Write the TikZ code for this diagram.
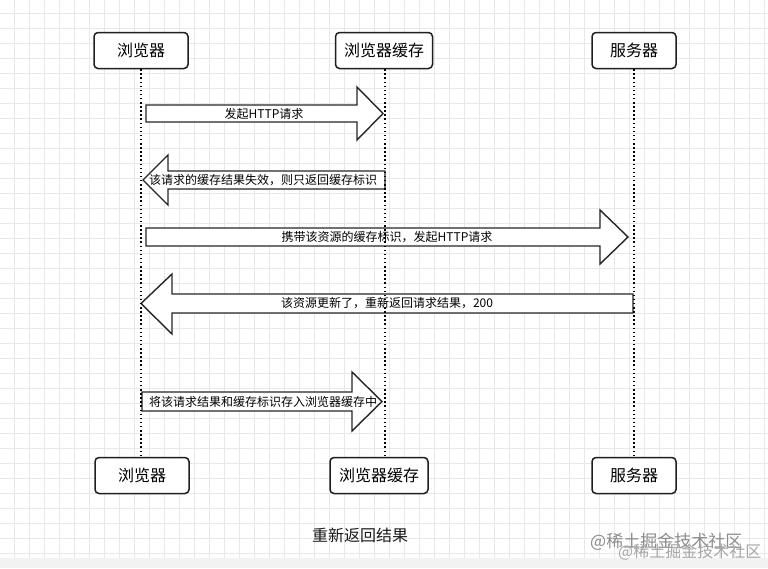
\documentclass[tikz,border=0pt]{standalone}
\usepackage{fontspec}
\newfontfamily\cjk{Noto Sans CJK SC}
\tikzset{
  actor/.style={draw=black!88, line width=1.5pt, rounded corners=4pt, fill=white,
    font=\cjk\fontsize{16}{19}\selectfont, minimum height=36pt, inner sep=0pt},
  blockarrow/.style={draw=black!85, line width=1.4pt, fill=white, line join=miter},
  life/.style={line width=1.3pt, dash pattern=on 1.5pt off 2.6pt},
  msg/.style={font=\cjk\fontsize{12}{14}\selectfont, inner sep=0pt, text=black},
  gridline/.style={draw=black!9, line width=0.8pt}
}
\begin{document}
\begin{tikzpicture}[x=1pt,y=-1pt]
\useasboundingbox (0,0) rectangle (768,568);
\fill[white] (0,0) rectangle (768,568);
% grid
\foreach \x in {14,29,...,764} \draw[gridline] (\x,0) -- (\x,558);
\foreach \y in {13,28,...,553} \draw[gridline] (0,\y) -- (768,\y);
\fill[black!5] (0,558) rectangle (768,568);

% participants
\node[actor, minimum width=94pt] (b1) at (141,50.5) {浏览器};
\node[actor, minimum width=97pt] (c1) at (384,50.5) {浏览器缓存};
\node[actor, minimum width=84pt] (s1) at (634,50.5) {服务器};
\node[actor, minimum width=94pt] (b2) at (142,475.5) {浏览器};
\node[actor, minimum width=98pt] (c2) at (379,475.5) {浏览器缓存};
\node[actor, minimum width=84pt] (s2) at (634,475.5) {服务器};

% block arrows
\draw[blockarrow] (146,105) -- (357,105) -- (357,87) -- (383,113.5) -- (357,140) -- (357,122) -- (146,122) -- cycle;
\draw[blockarrow] (385,171) -- (168,171) -- (168,155) -- (143,180) -- (168,205) -- (168,189) -- (385,189) -- cycle;
\draw[blockarrow] (146,228) -- (600,228) -- (600,210) -- (628,237) -- (600,264) -- (600,246) -- (146,246) -- cycle;
\draw[blockarrow] (633,294) -- (172,294) -- (172,274) -- (141,303.5) -- (172,334) -- (172,313) -- (633,313) -- cycle;
\draw[blockarrow] (142,392) -- (352,392) -- (352,372) -- (382,401.5) -- (352,431) -- (352,411) -- (142,411) -- cycle;

% lifelines
\draw[life] (b1.south) -- (b1.south |- b2.north);
\draw[life] ([xshift=1pt]c1.south) -- ([xshift=1pt]c1.south |- c2.north);
\draw[life] (s1.south) -- (s1.south |- s2.north);

% messages
\node[msg] (t1) at (264,114) {发起HTTP请求};
\node[msg] (t2) at (263,180) {该请求的缓存结果失效，则只返回缓存标识};
\node[msg] (t3) at (387,237) {携带该资源的缓存标识，发起HTTP请求};
\node[msg] (t4) at (387,303) {该资源更新了，重新返回请求结果，200};
\node[msg] (t5) at (263,401.5) {将该请求结果和缓存标识存入浏览器缓存中};

% caption
\node[font=\cjk\fontsize{16}{19}\selectfont, text=black!90, inner sep=0pt] (cap) at (360,535) {重新返回结果};

% watermark
\node[font=\cjk\fontsize{17}{19}\selectfont, text=black!45, inner sep=0pt, anchor=west] (wm1) at (590,542) {@稀土掘金技术社区};
\node[font=\cjk\fontsize{16}{18}\selectfont, text=black!35, inner sep=0pt, anchor=west] (wm2) at (618,552) {@稀土掘金技术社区};
\end{tikzpicture}
\end{document}
